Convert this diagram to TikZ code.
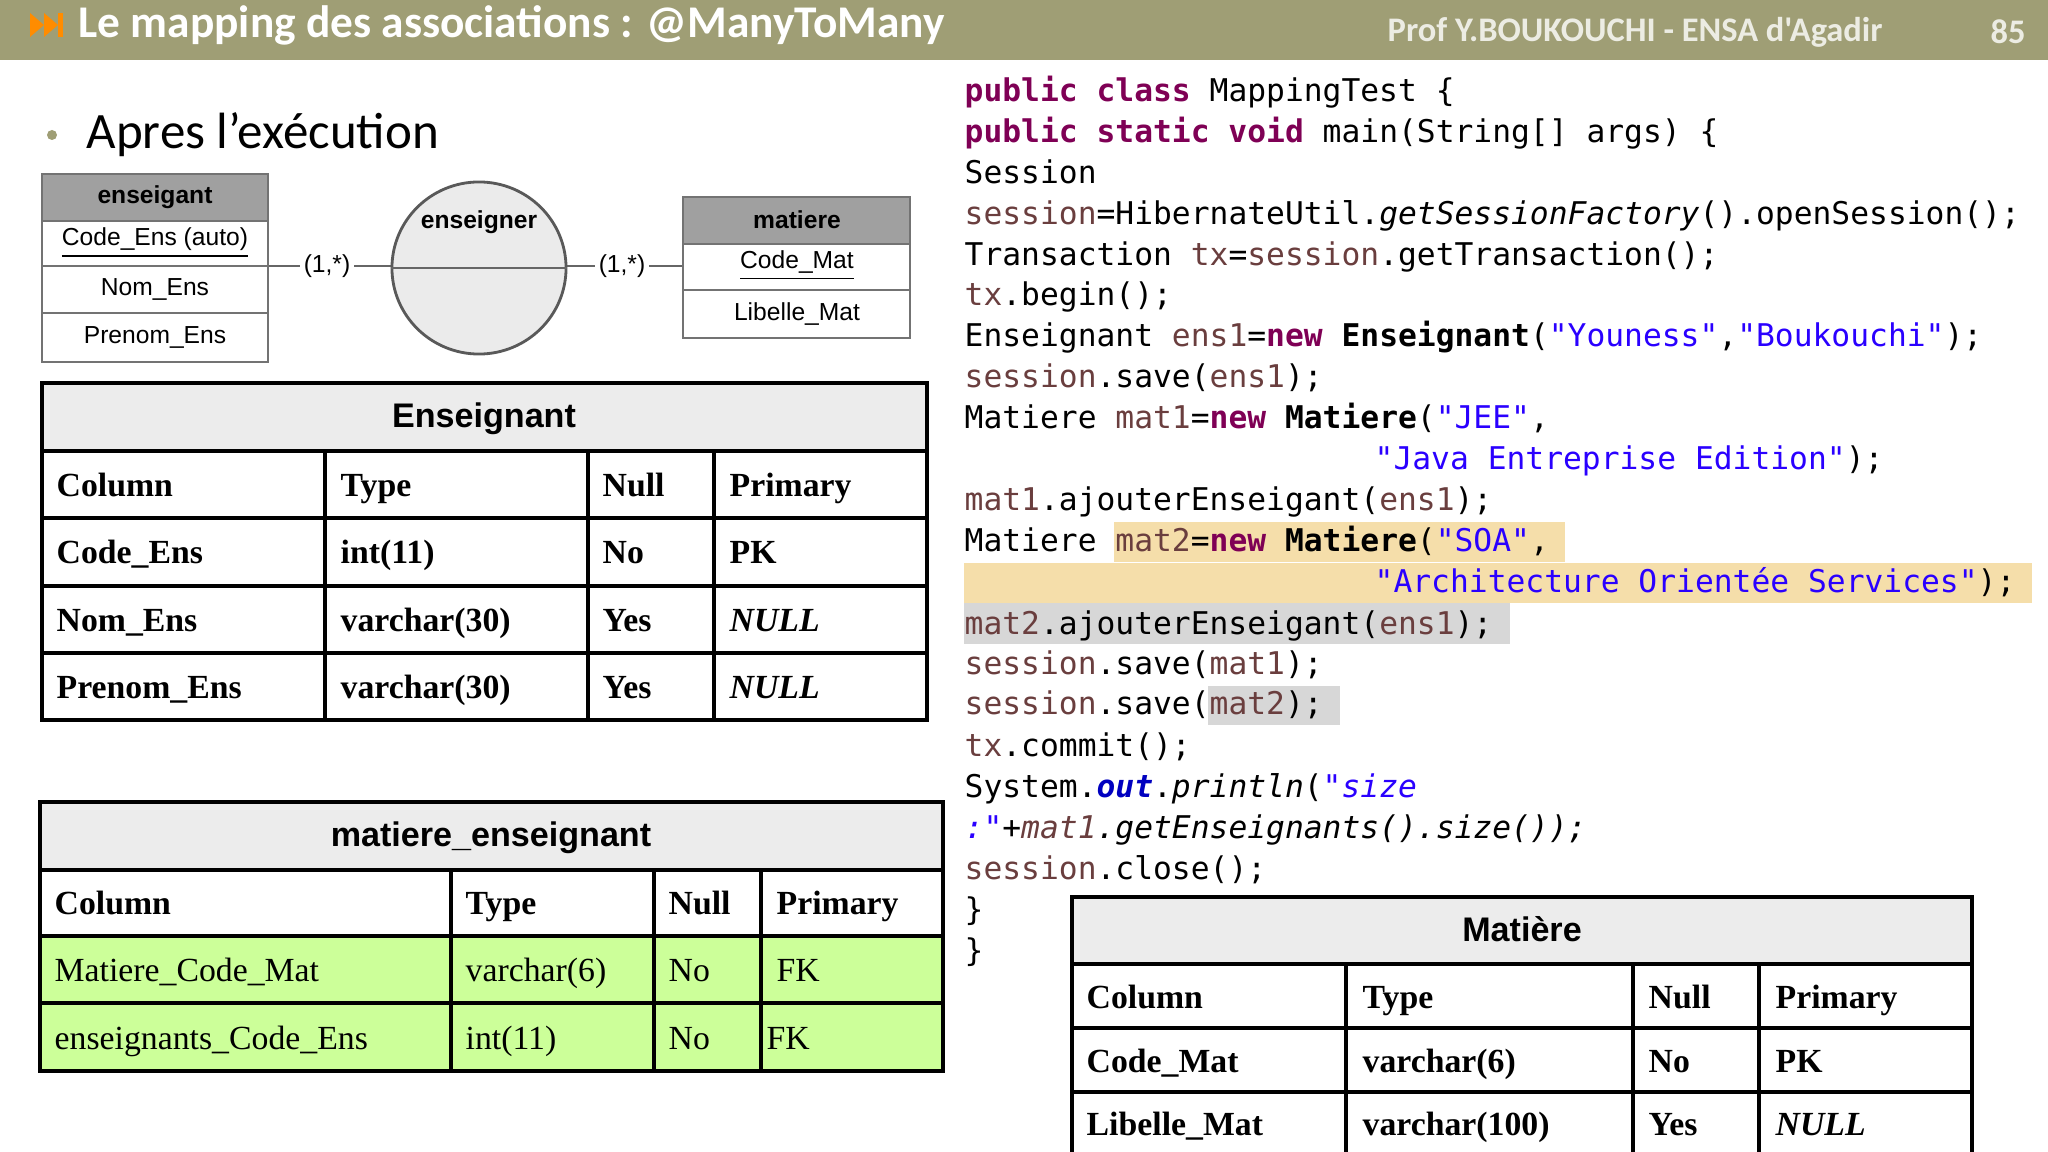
\documentclass[tikz,border=0pt]{standalone}
\usepackage{fontspec}
\usetikzlibrary{shapes.geometric}
\setmainfont{Liberation Serif}
\newfontfamily\calib{Carlito}
\newfontfamily\arialf{Liberation Sans}
\newfontfamily\codefont{DejaVu Sans Mono}
\definecolor{band}{RGB}{159,158,117}
\definecolor{kwc}{RGB}{127,0,85}
\definecolor{strc}{RGB}{42,0,255}
\definecolor{varc}{RGB}{106,62,62}
\definecolor{outc}{RGB}{0,0,192}
\definecolor{hlY}{RGB}{245,222,170}
\definecolor{hlG}{RGB}{215,215,215}
\definecolor{tgray}{RGB}{236,236,236}
\definecolor{grn}{RGB}{204,255,153}
\definecolor{ergray}{RGB}{160,160,160}
\newcommand{\kw}[1]{\textcolor{kwc}{\bfseries #1}}
\newcommand{\str}[1]{\textcolor{strc}{#1}}
\newcommand{\var}[1]{\textcolor{varc}{#1}}
\begin{document}
\begin{tikzpicture}[x=0.01cm,y=-0.01cm,
  code/.style={anchor=base west,inner sep=0,font=\codefont\fontsize{8.9}{10}\selectfont},
  cell/.style={anchor=base west,inner sep=0,yshift=-0.11cm,font=\fontsize{9.6}{11}\selectfont\bfseries},
  gcell/.style={anchor=base west,inner sep=0,yshift=-0.11cm,font=\fontsize{9.6}{11}\selectfont},
  ttl/.style={inner sep=0,anchor=base,yshift=-0.1cm,font=\arialf\fontsize{9.7}{11}\selectfont\bfseries},
  tline/.style={line width=0.9pt},
  ertxt/.style={inner sep=0,font=\arialf\fontsize{7}{8}\selectfont},
  erbox/.style={draw=black!55,line width=0.6pt}]
\useasboundingbox (0,0) rectangle (2048,1152);
\fill[white] (0,0) rectangle (2048,1152);
% header
\fill[band] (0,0) rectangle (2048,60);
\fill[orange!90!yellow] (30,13) -- (44,25) -- (30,37) -- cycle;
\fill[orange!90!yellow] (44,13) -- (58,25) -- (44,37) -- cycle;
\fill[orange!90!yellow] (58,13) rectangle (63,37);
\node[anchor=west,inner sep=0,text=white,font=\calib\fontsize{12.9}{14}\selectfont\bfseries] (title) at (78,25) {Le mapping des associations : @ManyToMany};
\node[anchor=west,inner sep=0,text=white!80!band,font=\calib\fontsize{9.8}{11}\selectfont\bfseries] (prof) at (1387,32) {Prof Y.BOUKOUCHI - ENSA d'Agadir};
\node[anchor=west,inner sep=0,text=white!80!band,font=\calib\fontsize{9.8}{11}\selectfont\bfseries] (num) at (1990,32) {85};
% bullet
\fill[band] (52,135) circle (5);
\node[anchor=west,inner sep=0,font=\calib\fontsize{14.5}{16}\selectfont] (apres) at (86,135) {Apres l’exécution};
% ER diagram
\node[ertxt,fill=white,inner xsep=1pt] (c1) at (327,266) {(1,*)};
\node[ertxt,fill=white,inner xsep=1pt] (c2) at (622,266) {(1,*)};
\draw[black!60,line width=0.8pt] (268,266) -- (c1.west) (c1.east) -- (c2.west) (c2.east) -- (683,266);
\node[draw=black!65,fill=black!8,line width=0.8pt,ellipse,minimum width=1.74cm,minimum height=1.72cm,inner sep=0] (ass) at (479,268) {};
\draw[black!60,line width=0.8pt] (ass.west) -- (ass.east);
\node[ertxt,font=\arialf\fontsize{7}{8}\selectfont\bfseries] (assl) at (479,222) {enseigner};
\fill[ergray] (42,174) rectangle (268,221);
\draw[erbox] (42,174) rectangle (268,362);
\foreach \y in {221,266,313} \draw[erbox] (42,\y) -- (268,\y);
\node[ertxt,font=\arialf\fontsize{7}{8}\selectfont\bfseries] (e0) at (155,197) {enseigant};
\node[ertxt] (e1) at (155,243) {\underline{Code\_Ens (auto)}};
\node[ertxt] (e2) at (155,289) {Nom\_Ens};
\node[ertxt] (e3) at (155,337) {Prenom\_Ens};
\fill[ergray] (683,197) rectangle (910,244);
\draw[erbox] (683,197) rectangle (910,338);
\foreach \y in {244,290} \draw[erbox] (683,\y) -- (910,\y);
\node[ertxt,font=\arialf\fontsize{7}{8}\selectfont\bfseries] (m0) at (797,220) {matiere};
\node[ertxt] (m1) at (797,266) {\underline{Code\_Mat}};
\node[ertxt] (m2) at (797,314) {Libelle\_Mat};
% Enseignant table
\fill[tgray] (42,383) rectangle (927,451);
\draw[tline] (42,383) rectangle (927,720);
\foreach \y in {451,518,586,653} \draw[tline] (42,\y) -- (927,\y);
\foreach \x in {325,588,714} \draw[tline] (\x,451) -- (\x,720);
\node[ttl] (t1) at (484,417) {Enseignant};
\foreach \y/\a/\b/\c/\d [count=\i] in {485/Column/Type/Null/Primary,552/Code\_Ens/int(11)/No/PK,620/Nom\_Ens/varchar(30)/Yes/\textit{NULL},687/Prenom\_Ens/varchar(30)/Yes/\textit{NULL}}{
  \node[cell] (ea\i) at (56,\y) {\a};
  \node[cell] (eb\i) at (340,\y) {\b};
  \node[cell] (ec\i) at (602,\y) {\c};
  \node[cell] (ed\i) at (729,\y) {\d};
}
% matiere_enseignant
\fill[tgray] (40,802) rectangle (943,870);
\fill[grn] (40,936) rectangle (943,1071);
\draw[tline] (40,802) rectangle (943,1071);
\foreach \y in {870,936,1003} \draw[tline] (40,\y) -- (943,\y);
\foreach \x in {451,654,761} \draw[tline] (\x,870) -- (\x,1071);
\node[ttl] (t2) at (491,836) {matiere\_enseignant};
\node[cell] (ma1) at (54,903) {Column};
\node[cell] (mb1) at (465,903) {Type};
\node[cell] (mc1) at (668,903) {Null};
\node[cell] (md1) at (776,903) {Primary};
\node[gcell] (ma2) at (54,970) {Matiere\_Code\_Mat};
\node[gcell] (mb2) at (465,970) {varchar(6)};
\node[gcell] (mc2) at (668,970) {No};
\node[gcell] (md2) at (776,970) {FK};
\node[gcell] (ma3) at (54,1038) {enseignants\_Code\_Ens};
\node[gcell] (mb3) at (465,1038) {int(11)};
\node[gcell] (mc3) at (668,1038) {No};
\node[gcell] (md3) at (766,1038) {FK};
% Matiere table
\fill[tgray] (1072,897) rectangle (1972,964);
\draw[tline] (1072,1160) -- (1072,897) -- (1972,897) -- (1972,1160);
\foreach \y in {964,1028,1092} \draw[tline] (1072,\y) -- (1972,\y);
\foreach \x in {1346,1633,1759} \draw[tline] (\x,964) -- (\x,1160);
\node[ttl] (t3) at (1522,931) {Matière};
\foreach \y/\a/\b/\c/\d [count=\i] in {997/Column/Type/Null/Primary,1061/Code\_Mat/varchar(6)/No/PK,1124/Libelle\_Mat/varchar(100)/Yes/\textit{NULL}}{
  \node[cell] (xa\i) at (1086,\y) {\a};
  \node[cell] (xb\i) at (1362,\y) {\b};
  \node[cell] (xc\i) at (1648,\y) {\c};
  \node[cell] (xd\i) at (1775,\y) {\d};
}
% code highlights
\fill[hlY] (1114,522) rectangle (1565,562);
\fill[hlY] (964,563) rectangle (2032,603);
\fill[hlG] (964,603) rectangle (1510,644);
\fill[hlG] (1208,686) rectangle (1340,725);
% code
\node[code] (l0) at (964,102) {\kw{public class} MappingTest \{};
\node[code] (l1) at (964,143) {\kw{public static void} main(String[] args) \{};
\node[code] (l2) at (964,184) {Session};
\node[code] (l3) at (964,225) {\var{session}=HibernateUtil.\textit{getSessionFactory}().openSession();};
\node[code] (l4) at (964,266) {Transaction \var{tx}=\var{session}.getTransaction();};
\node[code] (l5) at (964,306) {\var{tx}.begin();};
\node[code] (l6) at (964,347) {Enseignant \var{ens1}=\kw{new} \textbf{Enseignant}(\str{"Youness"},\str{"Boukouchi"});};
\node[code] (l7) at (964,388) {\var{session}.save(\var{ens1});};
\node[code] (l8) at (964,429) {Matiere \var{mat1}=\kw{new} \textbf{Matiere}(\str{"JEE"},};
\node[code] (l9) at (1374,470) {\str{"Java Entreprise Edition"});};
\node[code] (l10) at (964,511) {\var{mat1}.ajouterEnseigant(\var{ens1});};
\node[code] (l11) at (964,552) {Matiere \var{mat2}=\kw{new} \textbf{Matiere}(\str{"SOA"},};
\node[code] (l12) at (1374,593) {\str{"Architecture Orientée Services"});};
\node[code] (l13) at (964,634) {\var{mat2}.ajouterEnseigant(\var{ens1});};
\node[code] (l14) at (964,675) {\var{session}.save(\var{mat1});};
\node[code] (l15) at (964,715) {\var{session}.save(\var{mat2});};
\node[code] (l16) at (964,756) {\var{tx}.commit();};
\node[code] (l17) at (964,797) {System.\textcolor{outc}{\bfseries\itshape out}.\textit{println}(\textit{\str{"size}}};
\node[code] (l18) at (964,838) {\itshape\str{:"}+\var{mat1}.getEnseignants().size());};
\node[code] (l19) at (964,879) {\var{session}.close();};
\node[code] (l20) at (964,920) {\}};
\node[code] (l21) at (964,961) {\}};
\end{tikzpicture}
\end{document}
